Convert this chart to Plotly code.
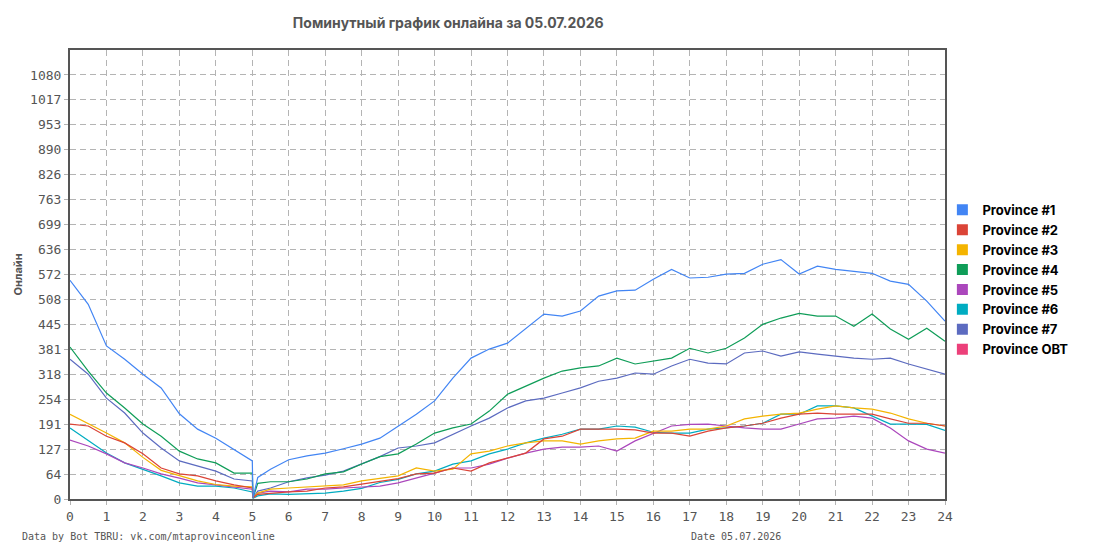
import plotly.graph_objects as go

# hours of day (sampled every 30 min, plus the restart around 05:00)
hours = [0, 0.5, 1, 1.5, 2, 2.5, 3, 3.5, 4, 4.5, 5, 5.02, 5.15,
         5.5, 6, 6.5, 7, 7.5, 8, 8.5, 9, 9.5, 10, 10.5, 11, 11.5, 12,
         12.5, 13, 13.5, 14, 14.5, 15, 15.5, 16, 16.5, 17, 17.5, 18,
         18.5, 19, 19.5, 20, 20.5, 21, 21.5, 22, 22.5, 23, 23.5, 24]

province_1 = [557, 496, 390, 356, 318, 283, 217, 178, 155, 127, 97, 3, 55,
              76, 100, 110, 117, 128, 140, 155, 186, 216, 250, 308, 359, 382, 397,
              435, 471, 466, 479, 517, 530, 532, 560, 585, 563, 565, 573,
              575, 598, 610, 573, 593, 585, 580, 575, 555, 547, 504, 453]
province_2 = [191, 186, 160, 143, 115, 79, 64, 59, 46, 36, 28, 3, 12,
              15, 18, 20, 28, 31, 38, 45, 52, 64, 66, 79, 71, 92, 104,
              117, 153, 160, 178, 178, 178, 176, 168, 168, 160, 173, 181,
              186, 193, 206, 216, 219, 216, 216, 216, 204, 193, 193, 186]
province_3 = [216, 193, 168, 143, 106, 73, 59, 46, 37, 33, 31, 3, 15,
              25, 28, 31, 33, 36, 46, 53, 59, 79, 71, 76, 115, 122, 135,
              143, 148, 148, 140, 148, 153, 155, 173, 173, 178, 178, 186,
              204, 211, 216, 219, 229, 237, 232, 229, 219, 204, 193, 186]
province_4 = [387, 326, 270, 232, 191, 160, 122, 102, 92, 66, 66, 3, 40,
              44, 44, 51, 64, 69, 89, 108, 115, 140, 168, 181, 191, 224, 267,
              288, 308, 326, 334, 339, 359, 344, 351, 359, 384, 372, 384,
              410, 445, 461, 473, 466, 466, 440, 471, 433, 407, 435, 402]
province_5 = [150, 135, 115, 92, 79, 64, 53, 41, 36, 31, 25, 3, 15,
              20, 18, 25, 25, 28, 31, 33, 41, 53, 66, 79, 79, 89, 104,
              117, 127, 132, 132, 135, 122, 148, 168, 186, 190, 191, 186,
              181, 178, 178, 191, 204, 206, 211, 206, 181, 148, 127, 117]
province_6 = [181, 148, 117, 92, 76, 59, 41, 33, 33, 28, 18, 2, 8,
              13, 12, 13, 15, 20, 27, 42, 50, 64, 71, 89, 97, 115, 127,
              143, 155, 165, 178, 178, 186, 183, 170, 168, 168, 178, 181,
              186, 193, 216, 216, 237, 237, 232, 211, 191, 191, 190, 175]
province_7 = [356, 318, 257, 219, 168, 130, 97, 84, 71, 51, 46, 3, 20,
              28, 44, 54, 61, 71, 89, 108, 130, 135, 143, 165, 186, 206, 232,
              250, 257, 270, 283, 300, 308, 321, 318, 339, 356, 346, 344,
              372, 377, 364, 375, 369, 364, 359, 356, 359, 344, 331, 318]
province_obt = []

names = ["Province #1", "Province #2", "Province #3", "Province #4",
         "Province #5", "Province #6", "Province #7", "Province OBT"]
colors = ["#4285F4", "#DB4437", "#F4B400", "#0F9D58",
          "#AB47BC", "#00ACC1", "#5C6BC0", "#EC407A"]
series = [province_1, province_2, province_3, province_4,
          province_5, province_6, province_7, province_obt]

y_step = 63.55
y_labels = ["0", "64", "127", "191", "254", "318", "381", "445", "508",
            "572", "636", "699", "763", "826", "890", "953", "1017", "1080"]
x_labels = [str(h) for h in range(25)]

mono = "DejaVu Sans Mono"
fig = go.Figure()

# lines first, drawn in reverse so Province #1 ends on top
for name, color, values in reversed(list(zip(names, colors, series))):
    if values:
        fig.add_trace(go.Scatter(
            x=hours, y=values, mode="lines", name=name,
            line=dict(color=color, width=1.2), showlegend=False,
            hoverinfo="skip",
        ))

# square legend swatches
for name, color in zip(names, colors):
    fig.add_trace(go.Scatter(
        x=[None], y=[None], mode="markers", name=name,
        marker=dict(symbol="square", size=11, color=color),
    ))

# page has an 8px body margin, so the figure is 8px smaller each way
fig.update_layout(
    width=1087,
    height=542,
    margin=dict(l=62, r=150, t=42, b=51, autoexpand=False),
    paper_bgcolor="white",
    plot_bgcolor="white",
    title=dict(
        text="<b>Поминутный график онлайна за 05.07.2026</b>",
        x=0.405, xanchor="center", y=0.972, yanchor="middle",
        font=dict(family="Inter", size=14, color="#555555"),
    ),
    legend=dict(
        x=0.997, xanchor="left", y=0.488, yanchor="middle",
        font=dict(family="Inter", size=13, color="#000000", weight="bold"),
        tracegroupgap=0, itemwidth=30, bgcolor="rgba(0,0,0,0)",
    ),
    showlegend=True,
)

fig.update_xaxes(
    range=[0, 24], automargin=False,
    tickvals=list(range(25)), ticktext=x_labels,
    tickfont=dict(family=mono, size=13, color="#555555"),
    showgrid=True, gridcolor="#b4b4b4", griddash="6px,4px", gridwidth=1,
    showline=True, linecolor="#555555", linewidth=2, mirror=True,
    zeroline=False, ticks="outside", ticklen=4, tickcolor="#b4b4b4",
)
fig.update_yaxes(
    range=[0, y_step * 18], automargin=False,
    tickvals=[y_step * i for i in range(len(y_labels))], ticktext=y_labels,
    tickfont=dict(family=mono, size=13, color="#555555"),
    showgrid=True, gridcolor="#b4b4b4", griddash="6px,4px", gridwidth=1,
    showline=True, linecolor="#555555", linewidth=2, mirror=True,
    zeroline=False, ticks="outside", ticklen=4, tickcolor="#b4b4b4",
    title=dict(text="<b>Онлайн</b>", standoff=5,
               font=dict(family="Inter", size=11, color="#555555")),
)

fig.add_annotation(
    text="Data by Bot TBRU: vk.com/mtaprovinceonline",
    xref="paper", yref="paper", x=-0.0571, y=-0.0846,
    xanchor="left", yanchor="middle", showarrow=False,
    font=dict(family=mono, size=10, color="#555555"),
)
fig.add_annotation(
    text="Date 05.07.2026",
    xref="paper", yref="paper", x=0.761, y=-0.0846,
    xanchor="center", yanchor="middle", showarrow=False,
    font=dict(family=mono, size=10, color="#555555"),
)

fig.write_html("out.html")
